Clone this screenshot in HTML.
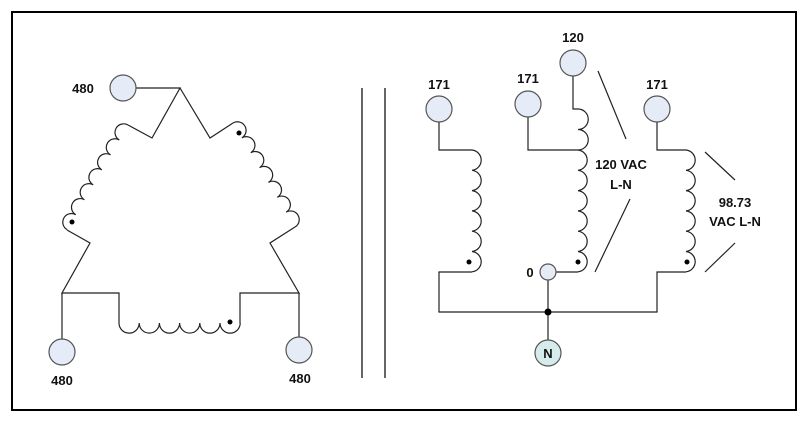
<!DOCTYPE html>
<html><head><style>html,body{margin:0;padding:0;background:#fff}svg{display:block}text{font-family:"Liberation Sans",Arial,sans-serif;font-weight:bold;font-size:13px;fill:#111}</style></head><body>
<svg width="810" height="423" viewBox="0 0 810 423" xmlns="http://www.w3.org/2000/svg">
<rect x="12" y="12" width="784" height="398" fill="#fff" stroke="#000" stroke-width="2"/>
<line x1="362" y1="88" x2="362" y2="378" stroke="#000" stroke-width="1.2"/>
<line x1="385" y1="88" x2="385" y2="378" stroke="#000" stroke-width="1.2"/>
<g fill="none" stroke="#222" stroke-width="1.2">
<!-- left delta -->
<polyline points="136,88 180,88 152,138 128,125"/>
<polyline points="180,88 210,138 233,123"/>
<polyline points="67,230 90,243 62,293 119,293 119,323"/>
<polyline points="295,227 270,243 299,293 240,293 240,323"/>
<line x1="62" y1="293" x2="62" y2="339"/>
<line x1="299" y1="293" x2="299" y2="337"/>
<g transform="translate(128,125) rotate(120.2)"><path d="M0,0 a8.6,8.6 0 0 0 17.3,0 a8.6,8.6 0 0 0 17.3,0 a8.6,8.6 0 0 0 17.3,0 a8.6,8.6 0 0 0 17.3,0 a8.6,8.6 0 0 0 17.3,0 a8.6,8.6 0 0 0 17.3,0 a8.6,8.6 0 0 0 17.3,0"/></g>
<g transform="translate(233,123) rotate(59.2)"><path d="M0,0 a8.6,8.6 0 0 1 17.3,0 a8.6,8.6 0 0 1 17.3,0 a8.6,8.6 0 0 1 17.3,0 a8.6,8.6 0 0 1 17.3,0 a8.6,8.6 0 0 1 17.3,0 a8.6,8.6 0 0 1 17.3,0 a8.6,8.6 0 0 1 17.3,0"/></g>
<path d="M119,323 a10.1,10.1 0 0 0 20.2,0 a10.1,10.1 0 0 0 20.2,0 a10.1,10.1 0 0 0 20.2,0 a10.1,10.1 0 0 0 20.2,0 a10.1,10.1 0 0 0 20.2,0 a10.1,10.1 0 0 0 20.2,0"/>
<!-- right side -->
<polyline points="439,122 439,150 472,150"/>
<path d="M472,150 a10.2,10.2 0 0 1 0,20.3 a10.2,10.2 0 0 1 0,20.3 a10.2,10.2 0 0 1 0,20.3 a10.2,10.2 0 0 1 0,20.3 a10.2,10.2 0 0 1 0,20.3 a10.2,10.2 0 0 1 0,20.3"/>
<polyline points="472,272 439,272 439,312 657,312 657,272 686,272"/>
<polyline points="528,117 528,150 578,150"/>
<polyline points="573,76 573,109 578,109"/>
<path d="M578,109 a10.2,10.2 0 0 1 0,20.5 a10.2,10.2 0 0 1 0,20.5"/>
<path d="M578,150 a10.2,10.2 0 0 1 0,20.3 a10.2,10.2 0 0 1 0,20.3 a10.2,10.2 0 0 1 0,20.3 a10.2,10.2 0 0 1 0,20.3 a10.2,10.2 0 0 1 0,20.3 a10.2,10.2 0 0 1 0,20.3"/>
<line x1="578" y1="272" x2="556" y2="272"/>
<line x1="548" y1="280" x2="548" y2="340"/>
<polyline points="657,122 657,150 686,150"/>
<path d="M686,150 a10.2,10.2 0 0 1 0,20.3 a10.2,10.2 0 0 1 0,20.3 a10.2,10.2 0 0 1 0,20.3 a10.2,10.2 0 0 1 0,20.3 a10.2,10.2 0 0 1 0,20.3 a10.2,10.2 0 0 1 0,20.3"/>
<line x1="598" y1="71" x2="626" y2="139"/>
<line x1="630" y1="199" x2="595" y2="272"/>
<line x1="705" y1="152" x2="735" y2="180"/>
<line x1="735" y1="243" x2="705" y2="272"/>
</g>
<g fill="#000">
<circle cx="72" cy="222" r="2.5"/><circle cx="239" cy="133" r="2.5"/><circle cx="230" cy="322" r="2.5"/>
<circle cx="469" cy="262" r="2.5"/><circle cx="578" cy="262" r="2.5"/><circle cx="687" cy="262" r="2.5"/>
<circle cx="548" cy="312" r="3.5"/>
</g>
<g fill="#e6ecf7" stroke="#555" stroke-width="1.2">
<circle cx="123" cy="88" r="13"/><circle cx="62" cy="352" r="13"/><circle cx="299" cy="350" r="13"/>
<circle cx="439" cy="109" r="13"/><circle cx="528" cy="104" r="13"/><circle cx="573" cy="63" r="13"/><circle cx="657" cy="109" r="13"/>
<circle cx="548" cy="272" r="8"/>
<circle cx="548" cy="353" r="13" fill="#d6ecec"/>
</g>
<g text-anchor="middle">
<text x="83" y="93">480</text><text x="62" y="385">480</text><text x="300" y="383">480</text>
<text x="439" y="89">171</text><text x="528" y="83">171</text><text x="573" y="42">120</text><text x="657" y="89">171</text>
<text x="530" y="277">0</text>
<text x="548" y="358" font-size="14">N</text>
<text x="621" y="169">120 VAC</text><text x="621" y="189">L-N</text>
<text x="735" y="207">98.73</text><text x="735" y="226">VAC L-N</text>
</g>
</svg>
</body></html>
